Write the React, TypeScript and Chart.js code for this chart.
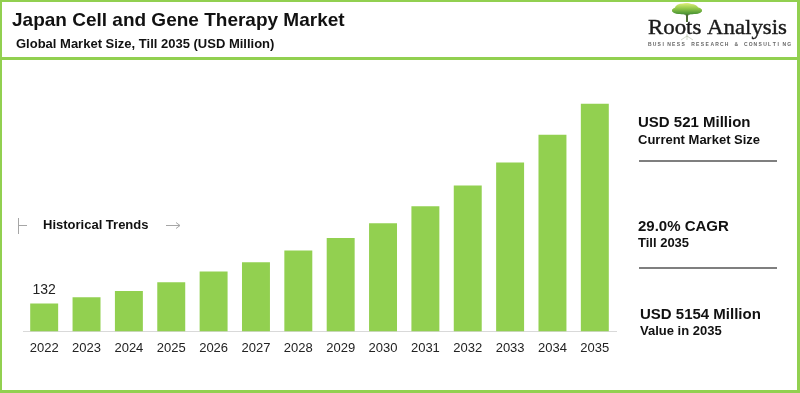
import React, { useEffect, useRef } from "react";
import { Chart, registerables } from "chart.js";

Chart.register(...registerables);

const years = ["2022", "2023", "2024", "2025", "2026", "2027", "2028", "2029", "2030", "2031", "2032", "2033", "2034", "2035"];
const marketSize = [132, 162, 191, 232, 283, 327, 382, 441, 511, 592, 690, 798, 930, 1076];
const labelledIndex = [0];

const titleText = "Japan Cell and Gene Therapy Market";
const subtitleText = "Global Market Size, Till 2035 (USD Million)";
const trendText = "Historical Trends";
const panelMain = ["USD 521 Million", "29.0% CAGR", "USD 5154 Million"];
const panelSub = ["Current Market Size", "Till 2035", "Value in 2035"];

const GREEN = "#92D050";
const SANS = "'Liberation Sans', Arial, sans-serif";
const SERIF = "'Liberation Serif', 'Times New Roman', serif";

const decorPlugin = {
  id: "decor",
  beforeDraw(chart: any) {
    const ctx = chart.ctx;
    ctx.save();
    ctx.fillStyle = "#ffffff";
    ctx.fillRect(0, 0, chart.width, chart.height);
    ctx.restore();
  },
  afterDraw(chart: any) {
    const ctx = chart.ctx;
    const W = chart.width;
    const H = chart.height;
    ctx.save();

    // title
    ctx.fillStyle = "#111111";
    ctx.textBaseline = "alphabetic";
    ctx.textAlign = "left";
    ctx.font = `bold 19px ${SANS}`;
    ctx.fillText(titleText, 12, 26);
    ctx.font = `bold 13px ${SANS}`;
    ctx.fillText(subtitleText, 16, 48);

    // logo tree
    const tx = 687;
    ctx.strokeStyle = "#4d6b35";
    ctx.lineWidth = 2;
    ctx.beginPath();
    ctx.moveTo(tx, 22);
    ctx.lineTo(tx, 11);
    ctx.stroke();
    ctx.lineWidth = 1;
    ctx.beginPath();
    ctx.moveTo(tx, 16);
    ctx.lineTo(tx - 6, 11);
    ctx.moveTo(tx, 16);
    ctx.lineTo(tx + 6, 11);
    ctx.stroke();
    const g = ctx.createLinearGradient(0, 3, 0, 15);
    g.addColorStop(0, "#dff07a");
    g.addColorStop(0.45, "#94c94a");
    g.addColorStop(1, "#3d8a30");
    ctx.fillStyle = g;
    const blobs = [
      [tx, 10.5, 15, 4],
      [tx - 8, 10.5, 7, 3.5],
      [tx + 8, 10.5, 7, 3.5],
      [tx - 4, 8, 8, 4.5],
      [tx + 4, 8, 7, 4],
      [tx, 6.5, 6, 3.5],
    ];
    for (const b of blobs) {
      ctx.beginPath();
      ctx.ellipse(b[0], b[1], b[2], b[3], 0, 0, Math.PI * 2);
      ctx.fill();
    }
    // faint roots
    ctx.strokeStyle = "rgba(120,140,100,0.35)";
    ctx.lineWidth = 1;
    ctx.beginPath();
    ctx.moveTo(tx, 34);
    ctx.lineTo(tx, 40);
    ctx.moveTo(tx, 36);
    ctx.lineTo(tx - 6, 40);
    ctx.moveTo(tx, 36);
    ctx.lineTo(tx + 6, 40);
    ctx.stroke();

    // logo text
    ctx.fillStyle = "#1a1a1a";
    ctx.font = `22px ${SERIF}`;
    const logo = "Roots Analysis";
    const lw = ctx.measureText(logo).width;
    const targetW = 139;
    ctx.save();
    ctx.translate(648, 34);
    ctx.scale(targetW / lw, 1);
    ctx.fillText(logo, 0, 0);
    ctx.strokeStyle = "#1a1a1a";
    ctx.lineWidth = 0.4;
    ctx.strokeText(logo, 0, 0);
    ctx.restore();

    const tag = "BUSINESS RESEARCH & CONSULTING";
    ctx.fillStyle = "#666666";
    ctx.font = `bold 5px ${SANS}`;
    const tagW = 144;
    const step = tagW / tag.length;
    for (let i = 0; i < tag.length; i++) {
      ctx.fillText(tag[i], 648 + i * step, 46);
    }

    // frame (drawn over decorations)
    ctx.fillStyle = GREEN;
    ctx.fillRect(0, 0, W, 2);
    ctx.fillRect(0, 0, 2, H);
    ctx.fillRect(W - 3, 0, 3, H);
    ctx.fillRect(0, H - 3, W, 3);
    ctx.fillRect(0, 57, W, 3);

    // historical trends
    ctx.strokeStyle = "#a6a6a6";
    ctx.lineWidth = 1;
    ctx.beginPath();
    ctx.moveTo(18.5, 218);
    ctx.lineTo(18.5, 234);
    ctx.moveTo(18.5, 225.5);
    ctx.lineTo(27, 225.5);
    ctx.moveTo(166, 225.5);
    ctx.lineTo(180, 225.5);
    ctx.moveTo(176, 222.5);
    ctx.lineTo(180, 225.5);
    ctx.lineTo(176, 228.5);
    ctx.stroke();
    ctx.fillStyle = "#111111";
    ctx.textBaseline = "middle";
    ctx.font = `bold 13px ${SANS}`;
    ctx.fillText(trendText, 43, 225.5);

    // right panel
    const mainY = [123, 227, 315];
    const subY = [140, 243, 331];
    const xs = [638, 638, 640];
    for (let i = 0; i < 3; i++) {
      ctx.font = `bold 15px ${SANS}`;
      ctx.fillText(panelMain[i], xs[i], mainY[i]);
      ctx.font = `bold 13px ${SANS}`;
      ctx.fillText(panelSub[i], xs[i], subY[i]);
    }
    ctx.fillStyle = "#7f7f7f";
    ctx.fillRect(639, 160, 138, 2);
    ctx.fillRect(639, 267, 138, 2);

    // value label(s)
    const meta = chart.getDatasetMeta(0);
    ctx.fillStyle = "#222222";
    ctx.font = `14px ${SANS}`;
    ctx.textAlign = "center";
    ctx.textBaseline = "bottom";
    for (const idx of labelledIndex) {
      const el = meta.data[idx];
      ctx.fillText(String(marketSize[idx]), el.x, el.y - 6);
    }
    ctx.restore();
  },
};

export default function App() {
  const ref = useRef<HTMLCanvasElement | null>(null);
  useEffect(() => {
    document.body.style.margin = "0";
    const canvas = ref.current;
    if (!canvas) return;
    const chart = new Chart(canvas, {
      type: "bar",
      data: {
        labels: years,
        datasets: [
          {
            data: marketSize,
            backgroundColor: GREEN,
            borderWidth: 0,
            barPercentage: 0.66,
            categoryPercentage: 1,
          },
        ],
      },
      options: {
        responsive: false,
        animation: false,
        devicePixelRatio: 1,
        layout: { padding: { left: 23, right: 184, top: 90, bottom: 28 } },
        plugins: { legend: { display: false }, tooltip: { enabled: false }, title: { display: false } },
        scales: {
          x: {
            grid: { display: false, drawTicks: false },
            border: { display: true, color: "#d9d9d9", width: 1 },
            ticks: { color: "#222222", font: { family: SANS, size: 13 }, padding: 9, maxRotation: 0, autoSkip: false },
          },
          y: {
            display: false,
            min: 0,
            max: 1141,
          },
        },
      },
      plugins: [decorPlugin],
    });
    return () => chart.destroy();
  }, []);
  return (
    <div style={{ width: 800, height: 393, position: "relative" }}>
      <canvas ref={ref} width={800} height={393} style={{ display: "block" }} />
    </div>
  );
}
